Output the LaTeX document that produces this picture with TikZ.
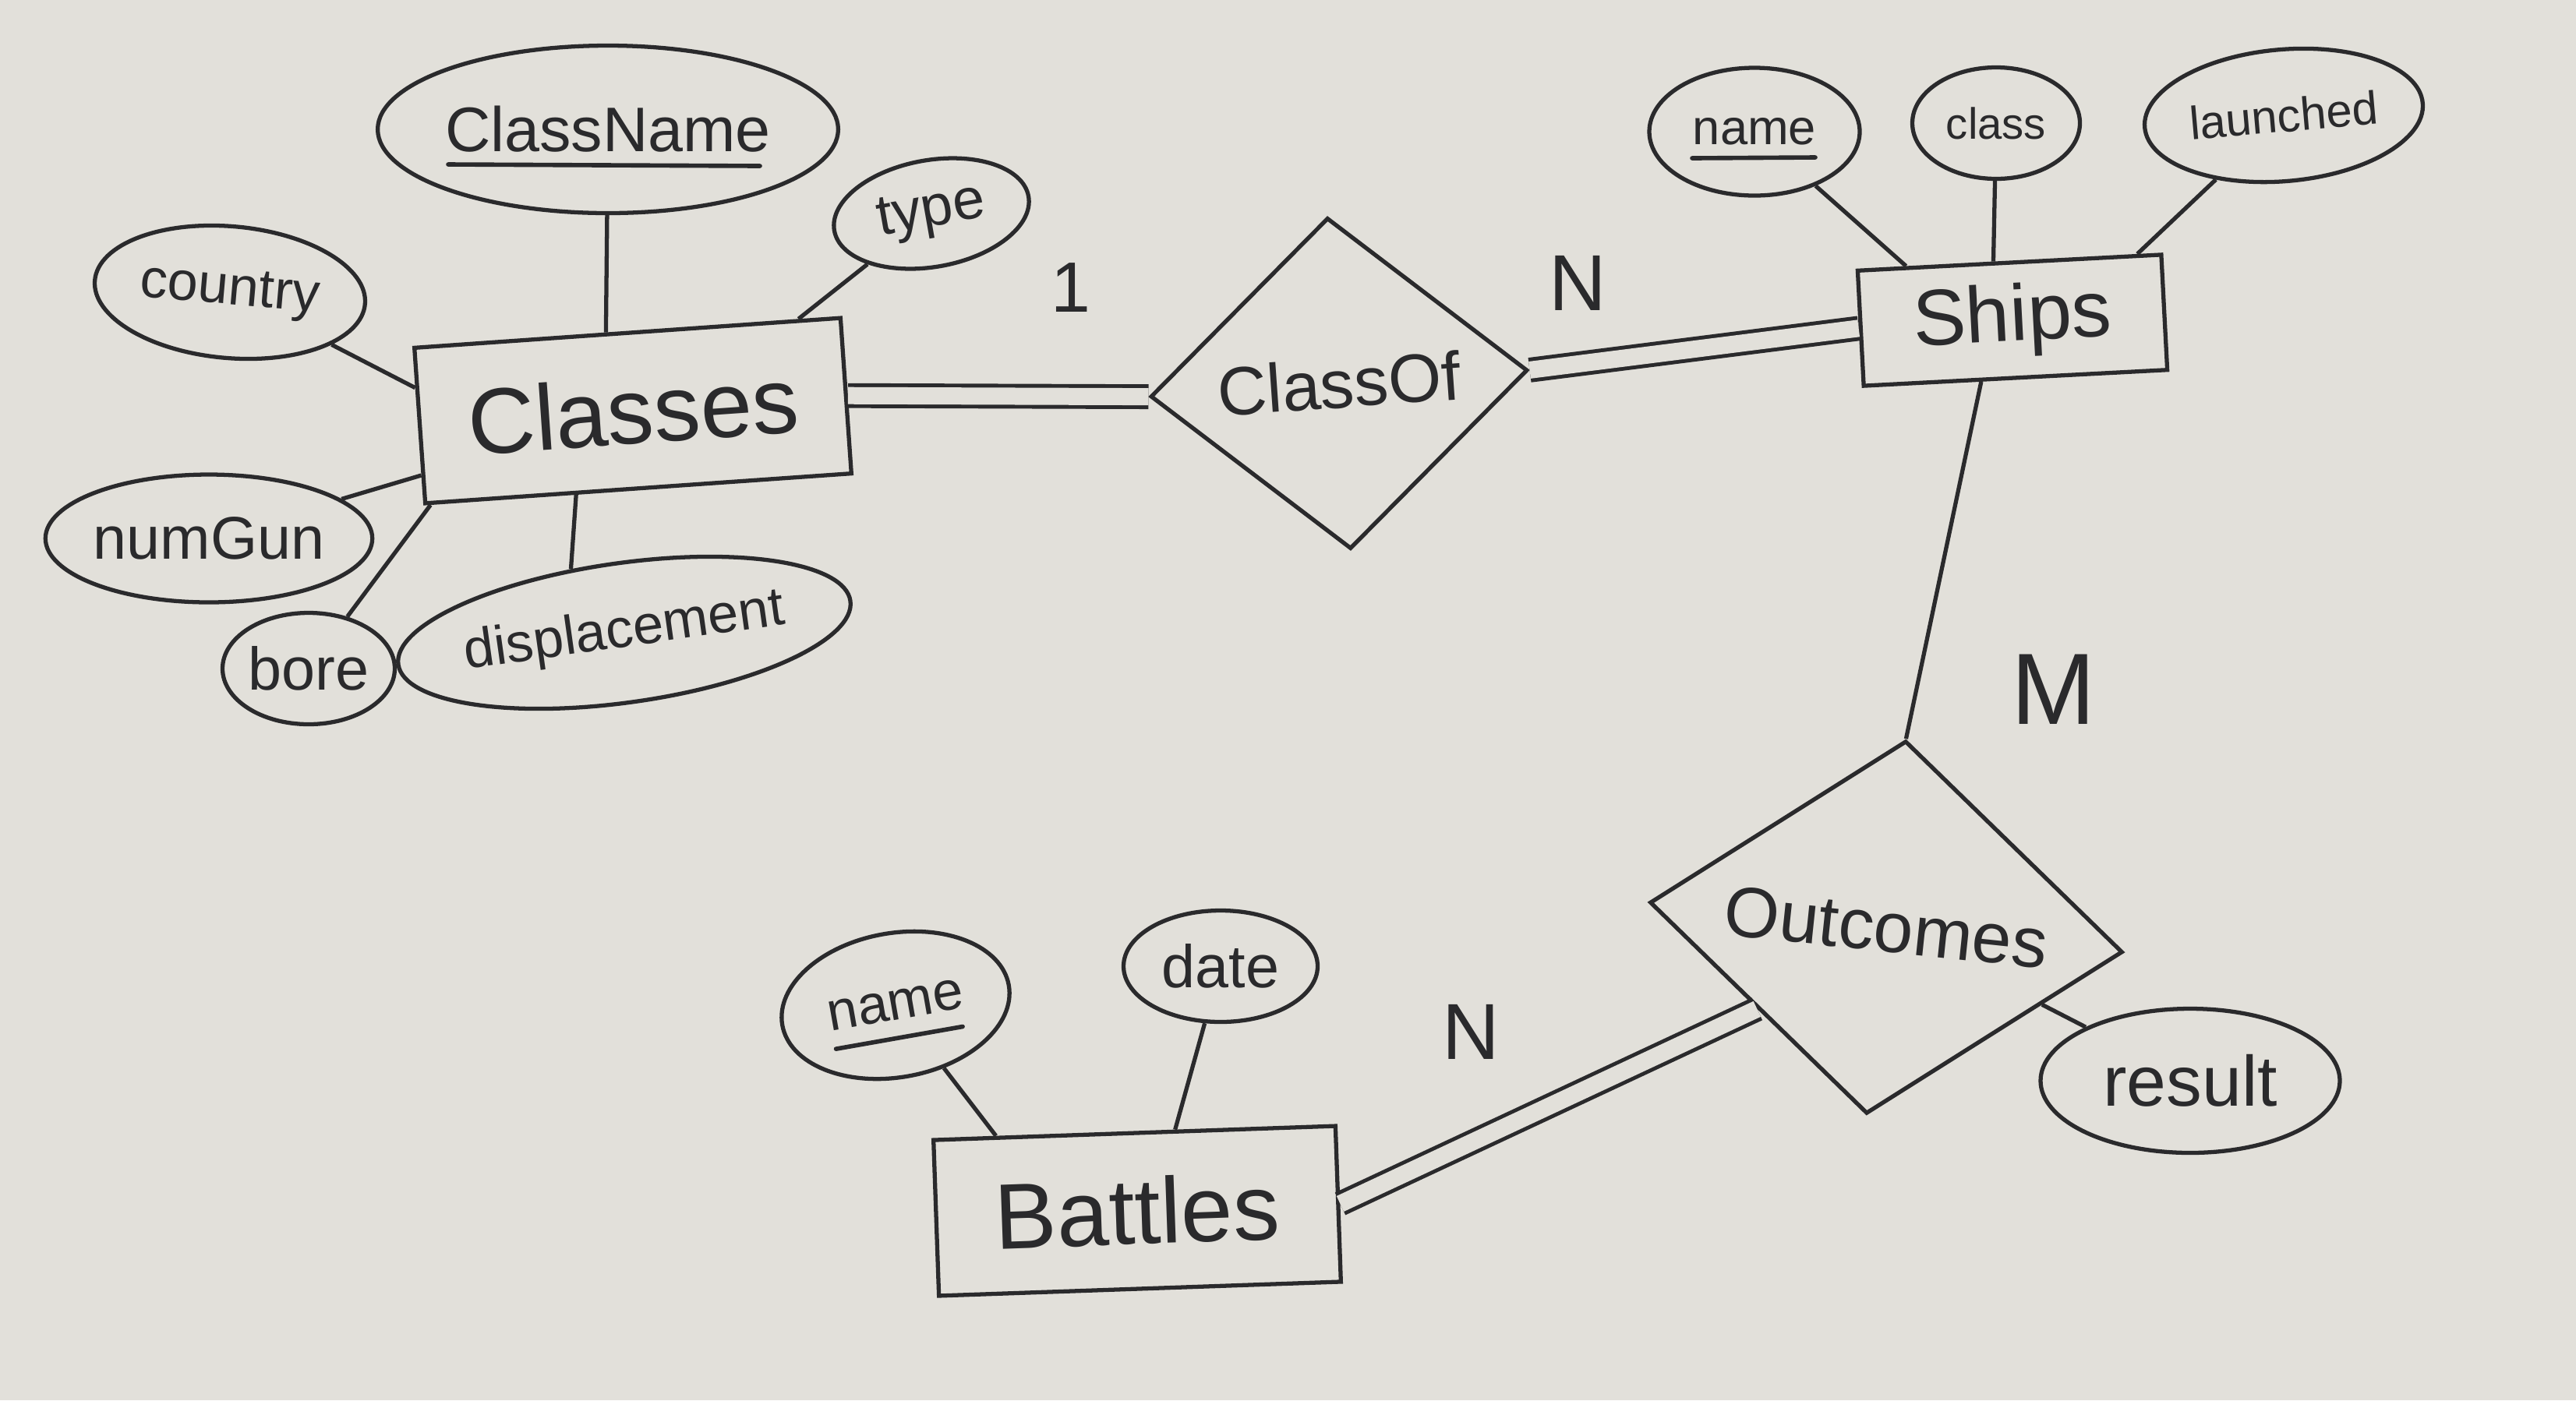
\documentclass[tikz,border=0pt]{standalone}
\usepackage{fontspec}
\setmainfont{Liberation Sans}
\usetikzlibrary{shapes.geometric,calc}
\definecolor{paper}{HTML}{E2E0DA}
\definecolor{ink}{HTML}{2A2A2C}
\tikzset{
  ent/.style={draw=ink, line width=1.5pt, rectangle, inner sep=0pt, text=ink},
  attr/.style={draw=ink, line width=1.5pt, ellipse, inner sep=0pt, text=ink},
  rel/.style={draw=ink, line width=1.5pt, diamond, inner sep=0pt, text=ink},
  lnk/.style={draw=ink, line width=1.5pt},
  uline/.style={draw=ink, line width=1.6pt, line cap=round},
  dlnk/.style={draw=ink, line width=1.4pt, double=paper, double distance=0.22cm},
  card/.style={text=ink, inner sep=0pt}
}
\newcommand{\fs}[1]{\fontsize{#1}{#1}\selectfont}
\begin{document}
\begin{tikzpicture}
\fill[paper] (0,0) rectangle (33.05,-17.97);
\useasboundingbox (0,0) rectangle (33.05,-17.97);

% Classes entity and attributes
\node[ent, minimum width=5.48cm, minimum height=2.0cm, rotate=4] (classes) at (8.12,-5.27) {\fs{34}Classes};
\node[attr, minimum width=5.52cm, minimum height=2.15cm] (cname) at (7.80,-1.66) {\fs{23}ClassName};
\begin{scope}[shift={(cname.center)}]
  \draw[uline] (-2.05,-0.45) -- (1.95,-0.47);
\end{scope}
\node[attr, minimum width=2.53cm, minimum height=1.37cm, rotate=10] (type) at (11.95,-2.74) {\fs{21}type};
\node[attr, minimum width=3.48cm, minimum height=1.69cm, rotate=-5] (country) at (2.95,-3.75) {\fs{20}country};
\node[attr, minimum width=4.0cm, minimum height=1.64cm] (numgun) at (2.68,-6.91) {\fs{22}numGun};
\node[attr, minimum width=2.21cm, minimum height=1.43cm] (bore) at (3.96,-8.58) {\fs{22}bore};
\node[attr, minimum width=5.06cm, minimum height=1.79cm, rotate=8] (displ) at (8.01,-8.12) {\fs{20}displacement};

\draw[lnk] (cname) -- (classes.105);
\draw[lnk] (type) -- (classes.25);
\draw[lnk] (country) -- (classes.170);
\draw[lnk] (numgun) -- (classes.193);
\draw[lnk] (bore) -- (classes.201);
\draw[lnk] (displ.122) -- (classes.232);

% ClassOf relationship
\node[rel, minimum width=4.85cm, minimum height=4.26cm, rotate=4] (classof) at (17.18,-4.92) {\fs{25}ClassOf};
\node[card] (c1) at (13.74,-3.69) {\fs{26}1};
\node[card] (cn1) at (20.24,-3.63) {\fs{29}N};

% Ships entity and attributes
\node[ent, minimum width=3.9cm, minimum height=1.48cm, rotate=3] (ships) at (25.82,-4.11) {\fs{29}Ships};
\node[attr, minimum width=2.7cm, minimum height=1.64cm] (sname) at (22.51,-1.69) {\fs{18}name};
\begin{scope}[shift={(sname.center)}]
  \draw[uline] (-0.8,-0.34) -- (0.78,-0.33);
\end{scope}
\node[attr, minimum width=2.15cm, minimum height=1.43cm] (sclass) at (25.61,-1.58) {\fs{16}class};
\node[attr, minimum width=3.58cm, minimum height=1.69cm, rotate=5] (launch) at (29.30,-1.48) {\fs{17}launched};

\draw[lnk] (sname) -- (ships.150);
\draw[lnk] (sclass) -- (ships.105);
\draw[lnk] (launch) -- (ships.25);

\draw[dlnk] (classes.east) -- (classof.west);
\draw[dlnk] (classof.east) -- (ships.west);

% Outcomes relationship
\node[rel, minimum width=6.1cm, minimum height=4.0cm, rotate=-6] (outc) at (24.2,-11.9) {\fs{26}Outcomes};
\node[card] (cm) at (26.35,-8.85) {\fs{37}M};
\node[attr, minimum width=3.84cm, minimum height=1.85cm] (result) at (28.1,-13.87) {\fs{26}result};
\draw[lnk] (ships.240) -- (outc.north);
\draw[lnk] ($(outc.east)!0.32!(outc.south)$) -- (result);

% Battles entity and attributes
\node[ent, minimum width=5.16cm, minimum height=2.0cm, rotate=2] (battles) at (14.59,-15.54) {\fs{34}Battles};
\node[attr, minimum width=2.95cm, minimum height=1.85cm, rotate=10] (bname) at (11.49,-12.9) {\fs{20}name};
\begin{scope}[shift={(bname.center)}, rotate=10]
  \draw[uline] (-0.85,-0.42) -- (0.8,-0.42);
\end{scope}
\node[attr, minimum width=2.49cm, minimum height=1.43cm] (date) at (15.66,-12.4) {\fs{22}date};
\node[card] (cn2) at (18.87,-13.24) {\fs{29}N};
\draw[lnk] (bname) -- (battles.150);
\draw[lnk] (date) -- (battles.63);
\draw[dlnk] (outc.south west) -- (battles.east);
\end{tikzpicture}
\end{document}
